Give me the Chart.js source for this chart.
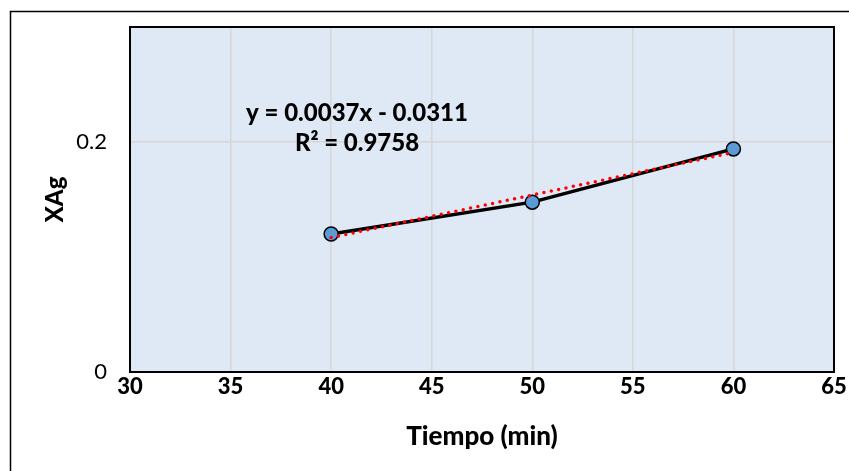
<!DOCTYPE html>
<html>
<head>
<meta charset="utf-8">
<script src="https://cdn.jsdelivr.net/npm/chart.js@4.4.1/dist/chart.umd.min.js"></script>
<style>
  html, body { margin: 0; padding: 0; background: #fff; }
  #wrap { width: 849px; height: 471px; position: relative; }
</style>
</head>
<body>
<div id="wrap"><canvas id="myChart" width="849" height="471"></canvas></div>
<script>
// data
const tiempo = [40, 50, 60];
const xag = [0.120, 0.1477, 0.194];
const trendX = [40, 60];
const trendY = [0.1169, 0.1909];
const xTicks = [30, 35, 40, 45, 50, 55, 60, 65];
const yTicks = [0, 0.2];
const eqText = ["y = 0.0037x - 0.0311", "R\u00b2 = 0.9758"];

const FONT = "Lato, 'Open Sans', sans-serif";

const frame = {
  id: "frame",
  beforeDraw(chart) {
    const c = chart.ctx, a = chart.chartArea;
    c.save();
    c.strokeStyle = "#000";
    c.lineWidth = 1.5;
    c.beginPath();
    c.moveTo(10.5, 475);
    c.lineTo(10.5, 11.5);
    c.lineTo(855, 11.5);
    c.stroke();
    c.fillStyle = "#dee9f5";
    c.fillRect(a.left, a.top, a.right - a.left, a.bottom - a.top);
    c.restore();
  },
  afterDatasetsDraw(chart) {
    const c = chart.ctx, a = chart.chartArea;
    c.save();
    c.strokeStyle = "#000";
    c.lineWidth = 2;
    c.strokeRect(a.left, a.top, a.right - a.left, a.bottom - a.top);
    c.fillStyle = "#000";
    c.font = "900 24px " + FONT;
    c.textAlign = "center";
    c.textBaseline = "middle";
    c.fillText(eqText[0], 357, 113);
    c.fillText(eqText[1], 357, 143);
    c.restore();
  }
};

new Chart("myChart", {
  type: "scatter",
  data: {
    datasets: [
      {
        label: "Tendencia",
        data: trendX.map((x, i) => ({ x: x, y: trendY[i] })),
        showLine: true,
        borderColor: "#ff0000",
        borderWidth: 3.5,
        borderDash: [0, 7.5],
        borderCapStyle: "round",
        pointRadius: 0,
        order: 0
      },
      {
        label: "XAg",
        data: tiempo.map((x, i) => ({ x: x, y: xag[i] })),
        showLine: true,
        borderColor: "#000",
        borderWidth: 3.5,
        pointRadius: 7,
        pointHoverRadius: 7,
        pointBackgroundColor: "#5b9bd5",
        pointBorderColor: "#000",
        pointBorderWidth: 1.5,
        order: 1
      }
    ]
  },
  options: {
    responsive: false,
    animation: false,
    layout: { padding: { left: 0, right: 15, top: 27, bottom: 0 } },
    plugins: { legend: { display: false }, tooltip: { enabled: false } },
    scales: {
      x: {
        type: "linear",
        min: 30, max: 65,
        afterBuildTicks(s) { s.ticks = xTicks.map(v => ({ value: v })); },
        afterFit(s) { s.height = 99; },
        grid: { color: "#d6d6d6", lineWidth: 1.5, drawTicks: false },
        border: { display: false },
        ticks: { color: "#000", padding: 2, font: { family: FONT, size: 22, weight: "900" } },
        title: { display: true, text: "Tiempo (min)", color: "#000", padding: { bottom: 19 },
                 font: { family: FONT, size: 26, weight: "900" } }
      },
      y: {
        min: 0, max: 0.3,
        afterBuildTicks(s) { s.ticks = yTicks.map(v => ({ value: v })); },
        afterFit(s) { s.width = 130; s.paddingTop = 0; s.paddingBottom = 0; },
        grid: { color: "#d6d6d6", lineWidth: 1.5, drawTicks: false },
        border: { display: false },
        ticks: { color: "#000", padding: 23, font: { family: FONT, size: 22 } },
        title: { display: true, text: "XAg", color: "#000", padding: { top: 41 },
                 font: { family: FONT, size: 24, weight: "900" } }
      }
    }
  },
  plugins: [frame]
});
</script>
</body>
</html>
